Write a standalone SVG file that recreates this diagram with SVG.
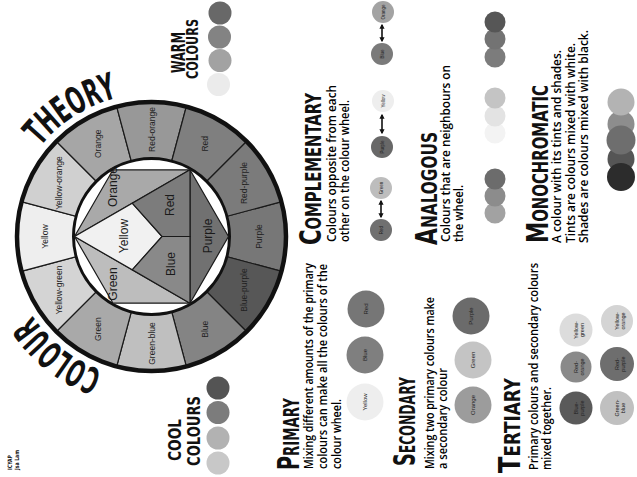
<svg xmlns="http://www.w3.org/2000/svg" width="637" height="477" viewBox="0 0 637 477">
<style>
.seg{stroke:#1a1a1a;stroke-width:1.2}
.wl{font-family:'Liberation Sans',Arial,sans-serif;font-size:8.5px;fill:#222;text-anchor:middle;dominant-baseline:central}
.il{font-family:'Liberation Sans',Arial,sans-serif;font-size:12px;fill:#1a1a1a;text-anchor:middle;dominant-baseline:central}
.hd{font-family:'DejaVu Sans Condensed','DejaVu Sans',sans-serif;font-weight:bold;font-variant:small-caps;fill:#111;font-size:30px}
.cap{font-family:'DejaVu Sans Condensed','DejaVu Sans',sans-serif;font-weight:bold;fill:#111}
.bd{font-family:'Open Sans','Liberation Sans',sans-serif;font-weight:600;fill:#000}
.cl{font-family:'Liberation Sans',Arial,sans-serif;fill:#222;text-anchor:middle;dominant-baseline:central}
.title{font-family:'DejaVu Sans Condensed','DejaVu Sans',sans-serif;font-weight:bold;font-size:37px;fill:#111}
.arr{stroke:#111;stroke-width:1.6;fill:none}
</style>
<defs>
<marker id="ah" viewBox="0 0 8 8" refX="6" refY="4" markerWidth="3.2" markerHeight="3.2" orient="auto-start-reverse"><path d="M0,0 L8,4 L0,8 z" fill="#111"/></marker>
<path id="arcTheory" d="M40.37,146.51 A143,143 0 0 1 131.6,94.9"/>
<path id="arcColour" d="M102.59,370.88 A143,143 0 0 1 21.9,296.93"/>
</defs>
<rect width="637" height="477" fill="#fff"/>

<g id="title">
<text class="title"><textPath href="#arcColour" textLength="91" lengthAdjust="spacingAndGlyphs">COLOUR</textPath></text>
<text class="title"><textPath href="#arcTheory" textLength="93" lengthAdjust="spacingAndGlyphs">THEORY</textPath></text>
</g>

<g id="colour-wheel">
<path class="seg" fill="#777777" d="M151.5,236.5 L280.93,201.82 A134,134 0 0 1 280.93,271.18 Z"/>
<path class="seg" fill="#575757" d="M151.5,236.5 L280.93,271.18 A134,134 0 0 1 246.25,331.25 Z"/>
<path class="seg" fill="#848484" d="M151.5,236.5 L246.25,331.25 A134,134 0 0 1 186.18,365.93 Z"/>
<path class="seg" fill="#bfbfbf" d="M151.5,236.5 L186.18,365.93 A134,134 0 0 1 116.82,365.93 Z"/>
<path class="seg" fill="#a9a9a9" d="M151.5,236.5 L116.82,365.93 A134,134 0 0 1 56.75,331.25 Z"/>
<path class="seg" fill="#d4d4d4" d="M151.5,236.5 L56.75,331.25 A134,134 0 0 1 22.07,271.18 Z"/>
<path class="seg" fill="#eeeeee" d="M151.5,236.5 L22.07,271.18 A134,134 0 0 1 22.07,201.82 Z"/>
<path class="seg" fill="#d0d0d0" d="M151.5,236.5 L22.07,201.82 A134,134 0 0 1 56.75,141.75 Z"/>
<path class="seg" fill="#a6a6a6" d="M151.5,236.5 L56.75,141.75 A134,134 0 0 1 116.82,107.07 Z"/>
<path class="seg" fill="#989898" d="M151.5,236.5 L116.82,107.07 A134,134 0 0 1 186.18,107.07 Z"/>
<path class="seg" fill="#7f7f7f" d="M151.5,236.5 L186.18,107.07 A134,134 0 0 1 246.25,141.75 Z"/>
<path class="seg" fill="#7b7b7b" d="M151.5,236.5 L246.25,141.75 A134,134 0 0 1 280.93,201.82 Z"/>
<circle cx="151.5" cy="236.5" r="134.5" fill="none" stroke="#111" stroke-width="4.5"/>
<circle cx="151.5" cy="236.5" r="78" fill="#fff" stroke="#111" stroke-width="3"/>
<polygon class="seg" fill="#a9a9a9" points="74.5,236.5 113,169.8 190,169.8"/>
<polygon class="seg" fill="#717171" points="190,169.8 228.5,236.5 190,303.2"/>
<polygon class="seg" fill="#bdbdbd" points="190,303.2 113,303.2 74.5,236.5"/>
<polygon class="seg" fill="#f1f1f1" points="74.5,236.5 132.25,203.15 162,236.5 132.25,269.85"/>
<polygon class="seg" fill="#7c7c7c" points="132.25,203.15 190,169.8 190,236.5 162,236.5"/>
<polygon class="seg" fill="#898989" points="162,236.5 190,236.5 190,303.2 132.25,269.85"/>
<text class="wl" x="258.5" y="236.5" transform="rotate(-90 258.5 236.5)">Purple</text>
<text class="wl" x="244.2" y="290" transform="rotate(-90 244.2 290)">Blue-purple</text>
<text class="wl" x="205" y="329.2" transform="rotate(-90 205 329.2)">Blue</text>
<text class="wl" x="151.5" y="343.5" transform="rotate(-90 151.5 343.5)">Green-blue</text>
<text class="wl" x="98" y="329.2" transform="rotate(-90 98 329.2)">Green</text>
<text class="wl" x="58.8" y="290" transform="rotate(-90 58.8 290)">Yellow-green</text>
<text class="wl" x="44.5" y="236.5" transform="rotate(-90 44.5 236.5)">Yellow</text>
<text class="wl" x="58.8" y="183" transform="rotate(-90 58.8 183)">Yellow-orange</text>
<text class="wl" x="98" y="143.8" transform="rotate(-90 98 143.8)">Orange</text>
<text class="wl" x="151.5" y="129.5" transform="rotate(-90 151.5 129.5)">Red-orange</text>
<text class="wl" x="205" y="143.8" transform="rotate(-90 205 143.8)">Red</text>
<text class="wl" x="244.2" y="183" transform="rotate(-90 244.2 183)">Red-purple</text>
<text class="il" x="113" y="187" transform="rotate(-90 113 187)">Orange</text>
<text class="il" x="113" y="284" transform="rotate(-90 113 284)">Green</text>
<text class="il" x="208" y="236" transform="rotate(-90 208 236)">Purple</text>
<text class="il" x="124" y="236" transform="rotate(-90 124 236)">Yellow</text>
<text class="il" x="170" y="205" transform="rotate(-90 170 205)">Red</text>
<text class="il" x="171" y="264" transform="rotate(-90 171 264)">Blue</text>
</g>

<g id="credits">
<text class="cap" font-size="6" transform="translate(12,470) rotate(-90)" textLength="15" lengthAdjust="spacingAndGlyphs">ICYAP</text>
<text class="cap" font-size="6" transform="translate(19,470) rotate(-90)" textLength="20" lengthAdjust="spacingAndGlyphs">Jsa Lam</text>
</g>

<g id="warm-colours">
<text class="cap" font-size="19" transform="translate(185,73) rotate(-90)" textLength="41" lengthAdjust="spacingAndGlyphs">WARM</text>
<text class="cap" font-size="16" transform="translate(198,79) rotate(-90)" textLength="60" lengthAdjust="spacingAndGlyphs">COLOURS</text>
<circle cx="220" cy="13" r="11.5" fill="#686868"/>
<circle cx="219.5" cy="37" r="11.5" fill="#838383"/>
<circle cx="220" cy="60.5" r="11.5" fill="#a2a2a2"/>
<circle cx="218.5" cy="84.5" r="11.5" fill="#ebebeb"/>
</g>

<g id="cool-colours">
<text class="cap" font-size="18" transform="translate(181,461) rotate(-90)" textLength="42" lengthAdjust="spacingAndGlyphs">COOL</text>
<text class="cap" font-size="18" transform="translate(200,466) rotate(-90)" textLength="70" lengthAdjust="spacingAndGlyphs">COLOURS</text>
<circle cx="218" cy="388" r="11.5" fill="#545454"/>
<circle cx="218" cy="412.5" r="11.5" fill="#7c7c7c"/>
<circle cx="218" cy="438" r="11.5" fill="#b2b2b2"/>
<circle cx="218" cy="463" r="11.5" fill="#c8c8c8"/>
</g>

<g id="primary">
<text class="hd" transform="translate(299,470) rotate(-90)" textLength="72" lengthAdjust="spacingAndGlyphs">Primary</text>
<text class="bd" font-size="12" transform="translate(313,469) rotate(-90)" textLength="206" lengthAdjust="spacingAndGlyphs">Mixing different amounts of the primary</text>
<text class="bd" font-size="12" transform="translate(327,469) rotate(-90)" textLength="205" lengthAdjust="spacingAndGlyphs">colours can make all the colours of the</text>
<text class="bd" font-size="12" transform="translate(341,469) rotate(-90)" textLength="70" lengthAdjust="spacingAndGlyphs">colour wheel.</text>
<circle cx="365" cy="402" r="18.5" fill="#eeeeee"/>
<circle cx="365" cy="355" r="18.5" fill="#7f7f7f"/>
<circle cx="366" cy="309" r="18.5" fill="#767676"/>
<text class="cl" font-size="6" x="365" y="402" transform="rotate(-90 365 402)">Yellow</text>
<text class="cl" font-size="6" x="365" y="355" transform="rotate(-90 365 355)">Blue</text>
<text class="cl" font-size="6" x="366" y="309" transform="rotate(-90 366 309)">Red</text>
</g>

<g id="secondary">
<text class="hd" transform="translate(415,466) rotate(-90)" textLength="89" lengthAdjust="spacingAndGlyphs">Secondary</text>
<text class="bd" font-size="12" transform="translate(434,469) rotate(-90)" textLength="172" lengthAdjust="spacingAndGlyphs">Mixing two primary colours make</text>
<text class="bd" font-size="12" transform="translate(447,469) rotate(-90)" textLength="101" lengthAdjust="spacingAndGlyphs">a secondary colour</text>
<circle cx="473" cy="405" r="18.5" fill="#9c9c9c"/>
<circle cx="473" cy="360" r="18.5" fill="#c4c4c4"/>
<circle cx="471" cy="316" r="18.5" fill="#6b6b6b"/>
<text class="cl" font-size="6" x="473" y="405" transform="rotate(-90 473 405)">Orange</text>
<text class="cl" font-size="6" x="473" y="360" transform="rotate(-90 473 360)">Green</text>
<text class="cl" font-size="6" x="471" y="316" transform="rotate(-90 471 316)">Purple</text>
</g>

<g id="tertiary">
<text class="hd" transform="translate(520,473) rotate(-90)" textLength="95" lengthAdjust="spacingAndGlyphs">Tertiary</text>
<text class="bd" font-size="12" transform="translate(538,470) rotate(-90)" textLength="207" lengthAdjust="spacingAndGlyphs">Primary colours and secondary colours</text>
<text class="bd" font-size="12" transform="translate(551,470) rotate(-90)" textLength="83" lengthAdjust="spacingAndGlyphs">mixed together.</text>
<circle cx="576" cy="408" r="16.5" fill="#5a5a5a"/>
<circle cx="576" cy="367" r="15.5" fill="#8a8a8a"/>
<circle cx="576" cy="330" r="16.5" fill="#dcdcdc"/>
<circle cx="617" cy="408" r="17" fill="#c0c0c0"/>
<circle cx="617" cy="364" r="17" fill="#6e6e6e"/>
<circle cx="617" cy="321" r="16" fill="#d4d4d4"/>
<g class="cl" font-size="5.5">
<text transform="translate(576,408) rotate(-90)"><tspan x="0" y="-0.5">Blue-</tspan><tspan x="0" y="5.8">purple</tspan></text>
<text transform="translate(576,367) rotate(-90)"><tspan x="0" y="-0.5">Red-</tspan><tspan x="0" y="5.8">orange</tspan></text>
<text transform="translate(576,330) rotate(-90)"><tspan x="0" y="-0.5">Yellow-</tspan><tspan x="0" y="5.8">green</tspan></text>
<text transform="translate(617,408) rotate(-90)"><tspan x="0" y="-0.5">Green-</tspan><tspan x="0" y="5.8">blue</tspan></text>
<text transform="translate(617,364) rotate(-90)"><tspan x="0" y="-0.5">Red-</tspan><tspan x="0" y="5.8">purple</tspan></text>
<text transform="translate(617,321) rotate(-90)"><tspan x="0" y="-0.5">Yellow-</tspan><tspan x="0" y="5.8">orange</tspan></text>
</g>
</g>

<g id="complementary">
<text class="hd" transform="translate(321,245) rotate(-90)" textLength="152" lengthAdjust="spacingAndGlyphs">Complementary</text>
<text class="bd" font-size="12.5" transform="translate(336,242) rotate(-90)" textLength="157" lengthAdjust="spacingAndGlyphs">Colours opposite from each</text>
<text class="bd" font-size="12.5" transform="translate(349,242) rotate(-90)" textLength="142" lengthAdjust="spacingAndGlyphs">other on the colour wheel.</text>
<circle cx="381" cy="230" r="11" fill="#707070"/>
<circle cx="381" cy="188" r="11" fill="#bdbdbd"/>
<circle cx="382" cy="147" r="11" fill="#686868"/>
<circle cx="383" cy="101" r="11" fill="#eeeeee"/>
<circle cx="382" cy="54" r="11" fill="#7a7a7a"/>
<circle cx="383" cy="12" r="11" fill="#a3a3a3"/>
<text class="cl" font-size="4.5" x="381" y="230" transform="rotate(-90 381 230)">Red</text>
<text class="cl" font-size="4.5" x="381" y="188" transform="rotate(-90 381 188)">Green</text>
<text class="cl" font-size="4.5" x="382" y="147" transform="rotate(-90 382 147)">Purple</text>
<text class="cl" font-size="4.5" x="383" y="101" transform="rotate(-90 383 101)">Yellow</text>
<text class="cl" font-size="4.5" x="382" y="54" transform="rotate(-90 382 54)">Blue</text>
<text class="cl" font-size="4.5" x="383" y="12" transform="rotate(-90 383 12)">Orange</text>
</g>

<g id="connectors">
<line class="arr" x1="381" y1="201" x2="381" y2="217" marker-start="url(#ah)" marker-end="url(#ah)"/>
<line class="arr" x1="382" y1="115" x2="382" y2="133" marker-start="url(#ah)" marker-end="url(#ah)"/>
<line class="arr" x1="382" y1="25" x2="382" y2="41" marker-start="url(#ah)" marker-end="url(#ah)"/>
</g>

<g id="analogous">
<text class="hd" transform="translate(437,245) rotate(-90)" textLength="113" lengthAdjust="spacingAndGlyphs">Analogous</text>
<text class="bd" font-size="12.5" transform="translate(450,242) rotate(-90)" textLength="177" lengthAdjust="spacingAndGlyphs">Colours that are neighbours on</text>
<text class="bd" font-size="12.5" transform="translate(463,242) rotate(-90)" textLength="57" lengthAdjust="spacingAndGlyphs">the wheel.</text>
<circle cx="495" cy="213" r="10.5" fill="#a2a2a2"/>
<circle cx="495" cy="196" r="10.5" fill="#8c8c8c"/>
<circle cx="495" cy="179" r="10.5" fill="#6c6c6c"/>
<circle cx="495" cy="133" r="10.5" fill="#f3f3f3"/>
<circle cx="495" cy="116" r="10.5" fill="#e3e3e3"/>
<circle cx="495" cy="98" r="10.5" fill="#c4c4c4"/>
<circle cx="495" cy="57" r="10.5" fill="#7c7c7c"/>
<circle cx="495" cy="39" r="10.5" fill="#737373"/>
<circle cx="495" cy="22" r="10.5" fill="#565656"/>
</g>

<g id="monochromatic">
<text class="hd" transform="translate(548,243) rotate(-90)" textLength="158" lengthAdjust="spacingAndGlyphs">Monochromatic</text>
<text class="bd" font-size="12.5" transform="translate(561,243) rotate(-90)" textLength="193" lengthAdjust="spacingAndGlyphs">A colour with its tints and shades.</text>
<text class="bd" font-size="12.5" transform="translate(574.5,243) rotate(-90)" textLength="200" lengthAdjust="spacingAndGlyphs">Tints are colours mixed with white.</text>
<text class="bd" font-size="12.5" transform="translate(588,243) rotate(-90)" textLength="213" lengthAdjust="spacingAndGlyphs">Shades are colours mixed with black.</text>
<circle cx="621" cy="124" r="13.5" fill="#8d8d8d"/>
<circle cx="621" cy="159" r="13.5" fill="#555555"/>
<circle cx="621" cy="102" r="13.5" fill="#b3b3b3"/>
<circle cx="621" cy="140" r="14.5" fill="#6e6e6e"/>
<circle cx="621" cy="177" r="14" fill="#2c2c2c"/>
</g>
</svg>
